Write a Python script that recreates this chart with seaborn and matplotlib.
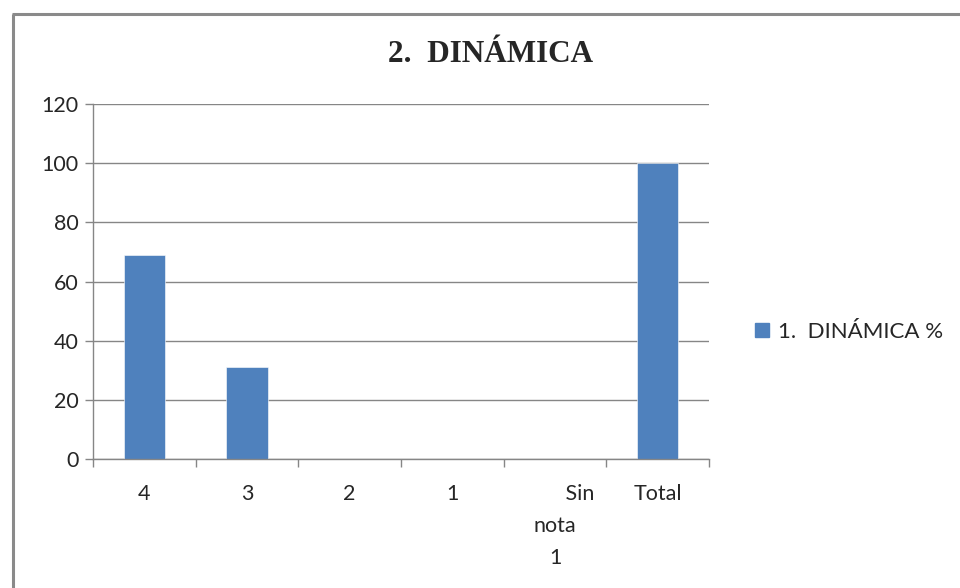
import matplotlib
matplotlib.use("Agg")
import matplotlib.pyplot as plt
from matplotlib.lines import Line2D
from matplotlib.ticker import FixedLocator
import seaborn as sns
import pandas as pd

# Categories and percentages
categorias = ["4", "3", "2", "1", "Sin nota 1", "Total"]
etiquetas = ["4", "3", "2", "1", "         Sin\nnota\n1", "Total"]
porcentajes = [68.97, 31.03, 0, 0, 0, 100]
serie = "1.  DINÁMICA %"

df = pd.DataFrame({"categoria": categorias, "valor": porcentajes, "serie": serie})

sns.set_theme(style="white")
plt.rcParams["font.family"] = ["Lato", "DejaVu Sans"]

W, H = 960, 588
fig = plt.figure(figsize=(W / 100, H / 100), dpi=100)
ax = fig.add_axes([93 / W, (H - 459) / H, 616 / W, 355 / H])

barcolor = "#4F81BD"
sns.barplot(data=df, x="categoria", y="valor", hue="serie", order=categorias,
            palette=[barcolor], width=0.4, ax=ax, legend=False,
            edgecolor="#ffffff", linewidth=0.4, saturation=1)

gris = "#868686"
ax.set_xlim(-0.5, len(categorias) - 0.5)
ax.set_ylim(0, 120)
ax.set_yticks(range(0, 121, 20))
ax.yaxis.grid(True, color=gris, linewidth=1.0)
ax.set_axisbelow(True)
for s in ["top", "right"]:
    ax.spines[s].set_visible(False)
for s in ["left", "bottom"]:
    ax.spines[s].set_color(gris)
    ax.spines[s].set_linewidth(1.0)

ax.set_xlabel("")
ax.set_ylabel("")
ax.set_xticks(range(len(categorias)))
ax.set_xticklabels(etiquetas, fontsize=15.5, color="#262626", linespacing=1.75, va="top")
ax.tick_params(axis="x", which="major", length=0, pad=18)
ax.xaxis.set_minor_locator(FixedLocator([i - 0.5 for i in range(len(categorias) + 1)]))
ax.tick_params(axis="x", which="minor", bottom=True, length=5.5, width=1.0, color=gris)
ax.tick_params(axis="y", left=True, length=5.5, width=1.0, color=gris, pad=5,
               labelsize=15.5, labelcolor="#262626")

# Title
fig.text(491 / W, 1 - 55 / H, "2.  DINÁMICA", ha="center", va="center",
         fontsize=22.5, fontweight="bold", family=["Liberation Serif", "DejaVu Serif"])

# Legend
handle = Line2D([], [], marker="s", linestyle="none", markersize=10,
                markerfacecolor=barcolor, markeredgecolor=barcolor)
fig.legend([handle], [serie], loc="center left",
           bbox_to_anchor=(742 / W, 1 - 332 / H), frameon=False,
           fontsize=16, handlelength=0.8, handletextpad=0.3,
           labelcolor="#262626", borderpad=0)

# Chart border
fig.add_artist(Line2D([13 / W, 13 / W], [0, 1 - 14 / H], transform=fig.transFigure,
                      color="#8a8a8a", linewidth=2.2, solid_capstyle="butt"))
fig.add_artist(Line2D([12 / W, 1], [1 - 14 / H, 1 - 14 / H], transform=fig.transFigure,
                      color="#8a8a8a", linewidth=2.2, solid_capstyle="butt"))

fig.savefig("out.png", dpi=100, facecolor="white")
